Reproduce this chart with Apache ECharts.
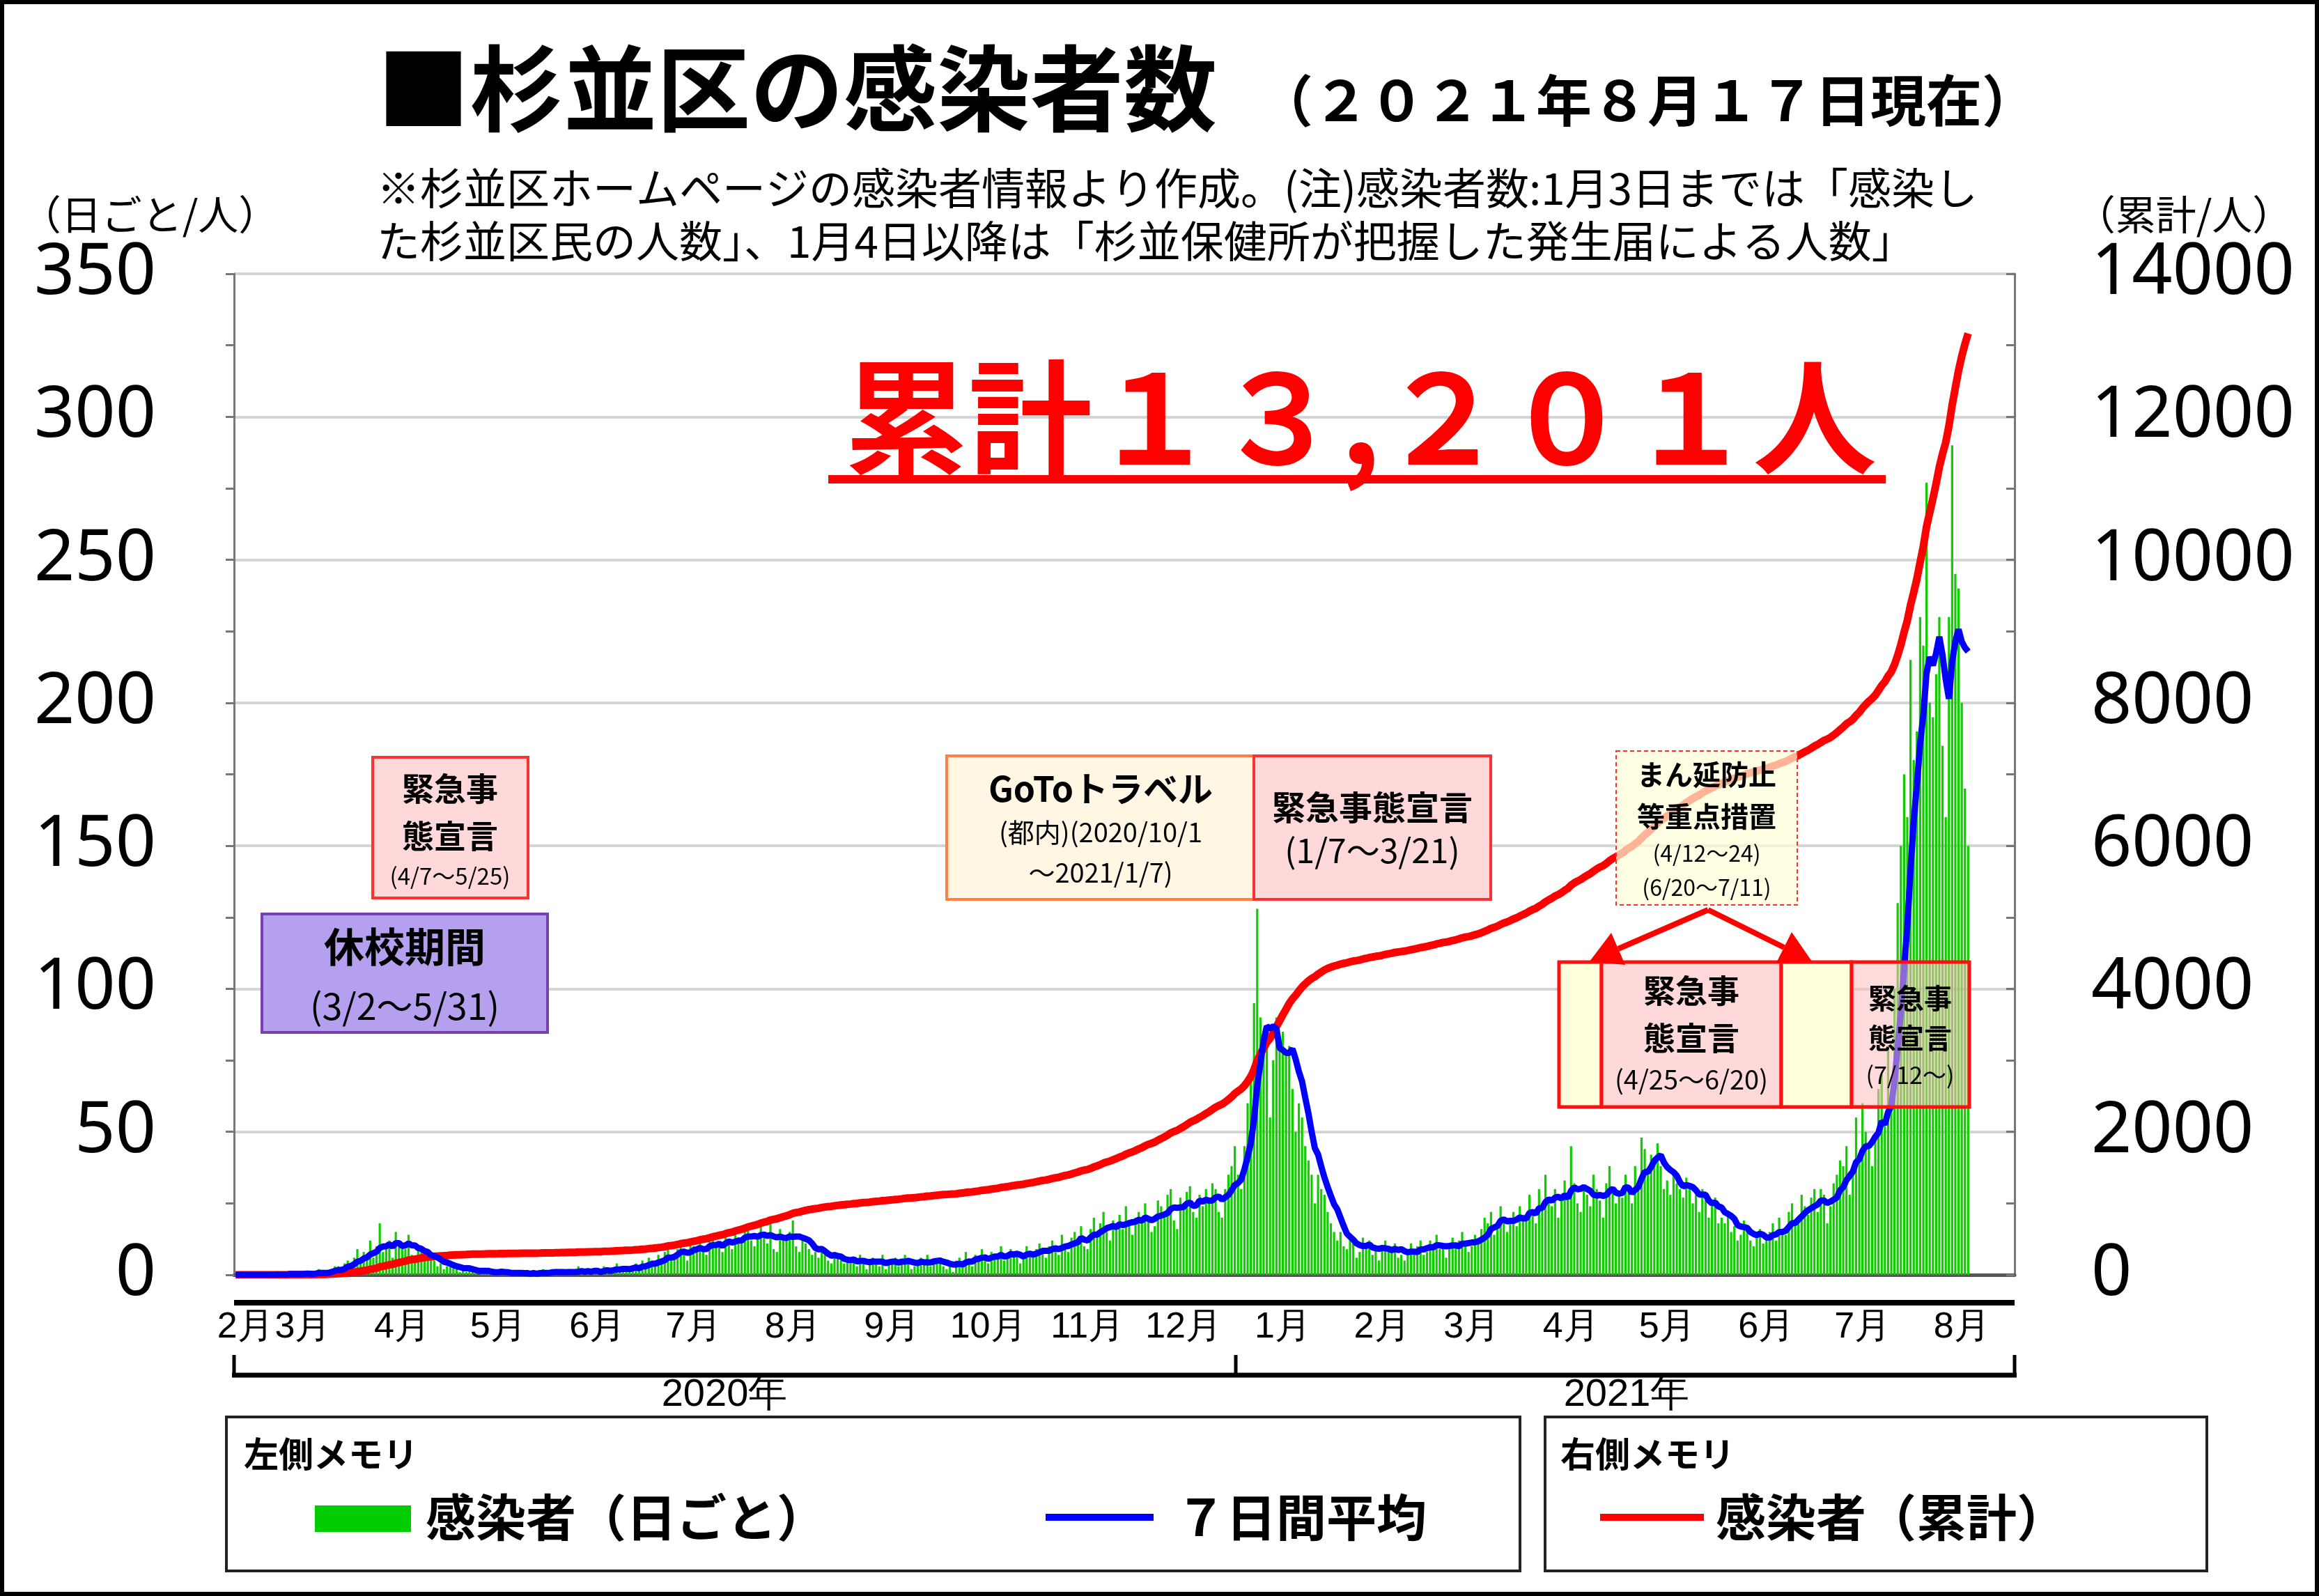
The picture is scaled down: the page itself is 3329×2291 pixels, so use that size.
<!DOCTYPE html>
<html>
<head>
<meta charset="utf-8">
<script src="https://cdn.jsdelivr.net/npm/echarts@6/dist/echarts.min.js"></script>
<style>
  html, body { margin: 0; padding: 0; background: #fff; }
  #chart { width: 3329px; height: 2291px; }
</style>
</head>
<body>
<div id="chart"></div>
<script>
// ── 日ごとの感染者数───────────────────────
const feb2020 = [0,0,0,0,0,0,0]; // 2/23〜2/29
const mar2020 = [0,0,0,0,0,0,1,0,0,0,1,0,0,1,0,1,0,0,1,2,1,0,1,2,3,3,2,4,5,3,6];
const apr2020 = [9,5,8,7,12,6,10,18,8,9,12,6,15,10,11,9,14,7,6,9,8,5,7,6,5,3,4,2,3,4];
const may2020 = [3,2,1,2,1,3,2,1,0,1,2,1,1,0,1,2,0,1,0,1,0,1,1,0,0,1,0,1,2,1,0];
const jun2020 = [1,2,0,1,1,2,0,1,3,1,0,2,1,2,1,0,3,2,1,2,4,1,2,3,1,3,4,2,5,3];
const jul2020 = [6,4,3,7,5,8,10,5,6,9,12,7,5,11,10,8,13,9,7,12,14,10,11,8,15,12,9,16,13,11,15];
const aug2020 = [18,12,10,14,17,13,11,20,9,8,16,14,12,15,19,10,8,13,11,9,7,8,6,10,7,5,4,8,6,5,4];
const sep2020 = [5,4,6,3,7,5,2,4,6,5,3,7,2,4,5,6,3,5,7,4,2,3,5,6,4,7,3,5,4,6];
const oct2020 = [3,2,4,1,5,6,4,8,5,3,7,6,9,5,4,8,6,7,10,5,6,9,7,8,4,6,10,8,7,9,11];
const nov2020 = [8,6,10,12,9,7,14,11,8,13,15,12,17,10,9,16,20,14,18,22,15,12,19,17,21,16,24,18,14,20];
const dec2020 = [22,18,25,20,15,17,26,24,21,28,30,19,16,27,25,29,31,22,20,28,24,30,26,32,30,22,20,30,35,38,45];
const jan2021 = [35,30,45,60,70,95,128,90,85,80,55,75,90,80,85,78,80,65,50,60,55,45,40,35,25,35,30,28,22,18,15];
const feb2021 = [12,15,10,9,14,11,6,8,13,10,12,7,9,5,10,12,9,8,11,6,7,5,9,11,8,10,12,7];
const mar2021 = [8,12,10,14,9,11,6,9,13,10,12,15,11,8,10,14,12,16,20,18,22,14,18,24,20,15,19,22,17,24,21];
const apr2021 = [20,28,22,18,30,25,35,27,24,30,20,26,33,28,45,32,25,22,30,28,24,35,30,26,20,32,38,30,25,28];
const may2021 = [27,35,30,25,38,32,48,44,35,42,40,46,38,30,33,28,36,32,30,27,34,31,25,28,22,30,26,20,24,27,18];
const jun2021 = [20,18,22,15,17,12,14,19,16,12,10,14,16,11,13,15,18,12,20,16,14,22,25,18,20,28,24,21,27,30];
const jul2021 = [22,30,28,18,24,32,35,40,38,45,28,35,55,42,60,50,45,38,48,65,70,52,80,60,100,130,150,175,160,215,180];
const aug2021 = [190,230,220,277,200,195,210,230,185,160,230,290,245,240,200,170,150]; // 〜8/17

const daily = [].concat(feb2020, mar2020, apr2020, may2020, jun2020, jul2020, aug2020,
  sep2020, oct2020, nov2020, dec2020, jan2021, feb2021, mar2021, apr2021, may2021,
  jun2021, jul2021, aug2021);

// ── 軸の目盛 ─────────────────────────────
const axisStart = new Date(2020, 1, 23);
const axisEnd = new Date(2021, 8, 1); // 9/1 の手前まで
const leftTicks = { min: 0, max: 350, interval: 50 };
const rightTicks = { min: 0, max: 14000, interval: 2000 };
const yearLabels = ["2020年", "2021年"];

const dates = [];
for (let d = new Date(axisStart); d < axisEnd; d.setDate(d.getDate() + 1)) dates.push(new Date(d));
const cats = dates.map(d => `${d.getFullYear()}/${d.getMonth() + 1}/${d.getDate()}`);

// 7日間平均・累計
const avg7 = daily.map((_, i) => {
  const s = daily.slice(Math.max(0, i - 6), i + 1);
  return +(s.reduce((a, b) => a + b, 0) / s.length).toFixed(1);
});
let run = 0;
const cumul = daily.map(v => (run += v));

const JP = '"Noto Sans CJK JP"';
const NARROW = '"Liberation Sans Narrow", "Liberation Sans", sans-serif';

function txt(x, y, text, size, opt = {}) {
  return {
    type: "text", z: 110,
    style: {
      x, y, text,
      fill: opt.fill || "#000",
      font: `${opt.weight || "bold"} ${size}px ${opt.family || JP}`,
      textAlign: opt.align || "center", align: opt.align || "center",
      textVerticalAlign: "middle", verticalAlign: "middle",
    },
  };
}
function box(x1, y1, x2, y2, fill, stroke, lw, dash, z) {
  return {
    type: "rect", z: z || 100,
    shape: { x: x1, y: y1, width: x2 - x1, height: y2 - y1 },
    style: { fill, stroke, lineWidth: lw, lineDash: dash || null },
  };
}
function seg(x1, y1, x2, y2, color, w) {
  return { type: "line", z: 105, shape: { x1, y1, x2, y2 }, style: { stroke: color, lineWidth: w } };
}
function tri(points, color) {
  return { type: "polygon", z: 106, shape: { points }, style: { fill: color } };
}

const graphics = [
  // 外枠
  box(3, 3, 3326, 2288, "none", "#000", 6, null, 1),
  // タイトル
  txt(541, 127, "■杉並区の感染者数", 134, { align: "left" }),
  txt(2925, 144, "（２０２１年８月１７日現在）", 80, { align: "right" }),
  txt(541, 270, "※杉並区ホームページの感染者情報より作成。(注)感染者数:1月3日までは「感染し", 62, { align: "left", weight: "normal" }),
  txt(541, 346, "た杉並区民の人数」、1月4日以降は「杉並保健所が把握した発生届による人数」", 62, { align: "left", weight: "normal" }),
  txt(215, 308, "（日ごと/人）", 58, { weight: "normal" }),
  txt(3135, 308, "（累計/人）", 58, { weight: "normal" }),
  // 累計
  txt(1953, 599, "累計１３,２０１人", 178, { fill: "#ff0000" }),
  seg(1189, 688, 2707, 688, "#ff0000", 12),

  // 緊急事態宣言 (4/7～5/25)
  box(535, 1087, 758, 1289, "#ffd9d9", "#ff3030", 4),
  txt(646, 1132, "緊急事", 46), txt(646, 1200, "態宣言", 46),
  txt(646, 1257, "(4/7～5/25)", 33, { weight: "normal" }),
  // 休校期間
  box(376, 1312, 786, 1482, "#b4a0ee", "#7a40b0", 4),
  txt(581, 1359, "休校期間", 58), txt(581, 1444, "(3/2～5/31)", 52, { weight: "normal" }),
  // GoTo
  box(1359, 1085, 1800, 1291, "#fff6e4", "#ff8040", 4),
  txt(1580, 1132, "GoToトラベル", 50),
  txt(1580, 1195, "(都内)(2020/10/1", 38, { weight: "normal" }),
  txt(1580, 1253, "～2021/1/7)", 38, { weight: "normal" }),
  // 緊急事態宣言 (1/7～3/21)
  box(1800, 1085, 2140, 1291, "#ffd9d9", "#ff3030", 4),
  txt(1970, 1159, "緊急事態宣言", 48), txt(1970, 1221, "(1/7～3/21)", 48, { weight: "normal" }),
  // まん延防止
  box(2320, 1078, 2580, 1299, "rgba(255,255,215,0.7)", "#ff3030", 2, [6, 4]),
  txt(2450, 1112, "まん延防止", 40), txt(2450, 1172, "等重点措置", 40),
  txt(2450, 1225, "(4/12～24)", 32, { weight: "normal" }),
  txt(2450, 1274, "(6/20～7/11)", 32, { weight: "normal" }),
  // 矢印
  seg(2452, 1306, 2323, 1362, "#ff0000", 8),
  tri([[2282, 1380], [2333, 1385], [2313, 1339]], "#ff0000"),
  seg(2452, 1306, 2561, 1360, "#ff0000", 8),
  tri([[2601, 1380], [2550, 1382], [2572, 1338]], "#ff0000"),
  // 下段の帯
  box(2238, 1381, 2299, 1589, "#ffffdc", "#ff1010", 5),
  box(2299, 1381, 2557, 1589, "#ffd9d9", "#ff1010", 5),
  box(2557, 1381, 2658, 1589, "#ffffdc", "#ff1010", 5),
  box(2658, 1381, 2827, 1589, "rgba(255,190,190,0.55)", "#ff1010", 5),
  txt(2428, 1422, "緊急事", 46), txt(2428, 1490, "態宣言", 46),
  txt(2428, 1550, "(4/25～6/20)", 38, { weight: "normal" }),
  txt(2742, 1433, "緊急事", 40), txt(2742, 1490, "態宣言", 40),
  txt(2742, 1543, "(7/12～)", 34, { weight: "normal" }),

  // 年の括弧
  seg(336, 1870, 2892, 1870, "#000", 8),
  seg(336, 1945, 336, 1976, "#000", 5),
  seg(1774, 1945, 1774, 1976, "#000", 5),
  seg(2892, 1945, 2892, 1976, "#000", 5),
  seg(333, 1974, 2895, 1974, "#000", 7),
  txt(1040, 2003, yearLabels[0], 56, { weight: "normal", family: NARROW }),
  txt(2335, 2003, yearLabels[1], 56, { weight: "normal", family: NARROW }),

  // 凡例
  box(325, 2034, 2182, 2255, "#fff", "#222", 4),
  box(2218, 2034, 3168, 2255, "#fff", "#222", 4),
  txt(350, 2087, "左側メモリ", 50, { align: "left" }),
  { type: "rect", z: 105, shape: { x: 452, y: 2161, width: 138, height: 38 }, style: { fill: "#00cc00" } },
  txt(611, 2178, "感染者（日ごと）", 72, { align: "left" }),
  seg(1501, 2178, 1656, 2178, "#0000ff", 10),
  txt(1688, 2178, "７日間平均", 72, { align: "left" }),
  txt(2240, 2087, "右側メモリ", 50, { align: "left" }),
  seg(2297, 2178, 2446, 2178, "#ff0000", 10),
  txt(2463, 2178, "感染者（累計）", 72, { align: "left" }),
];

const chart = echarts.init(document.getElementById("chart"));
chart.setOption({
  animation: false,
  backgroundColor: "#fff",
  grid: { left: 336, right: 437, top: 393, bottom: 461 },
  xAxis: [
    {
      type: "category", data: cats, position: "bottom",
      axisLine: { lineStyle: { color: "#555", width: 5 } },
      axisTick: { interval: 6, length: 10, lineStyle: { color: "#555", width: 2 } },
      axisLabel: { show: false },
    },
    {
      type: "category", data: cats, position: "bottom",
      axisLine: { show: false },
      axisTick: {
        interval: i => dates[i].getDate() === 1 || i === 0,
        length: 38, lineStyle: { color: "#000", width: 5 },
      },
      axisLabel: {
        interval: i => dates[i].getDate() === 15 || i === 3,
        formatter: v => `${+v.split("/")[1]}月`,
        margin: 50, fontSize: 52, color: "#000", fontFamily: NARROW,
      },
    },
  ],
  yAxis: [
    {
      type: "value", ...leftTicks,
      axisLine: { show: true, lineStyle: { color: "#777", width: 3 } },
      axisTick: { show: true, length: 12, lineStyle: { color: "#777", width: 3 } },
      minorTick: { show: true, splitNumber: 2, length: 12, lineStyle: { color: "#777", width: 3 } },
      axisLabel: { fontSize: 102, color: "#000", margin: 112, fontFamily: '"Noto Sans"' },
      splitLine: { lineStyle: { color: "#d4d4d4", width: 4 } },
    },
    {
      type: "value", ...rightTicks,
      axisLine: { show: true, lineStyle: { color: "#777", width: 3 } },
      axisTick: { show: true, inside: true, length: 12, lineStyle: { color: "#777", width: 3 } },
      minorTick: { show: true, splitNumber: 2, length: 12, lineStyle: { color: "#777", width: 3 } },
      axisLabel: { fontSize: 102, color: "#000", margin: 110, fontFamily: '"Noto Sans"', formatter: v => String(v) },
      splitLine: { show: false },
    },
  ],
  series: [
    {
      name: "感染者（日ごと）", type: "bar", data: daily, yAxisIndex: 0,
      barCategoryGap: "30%", itemStyle: { color: "#11cc00" }, z: 2,
    },
    {
      name: "感染者（累計）", type: "line", data: cumul, yAxisIndex: 1,
      symbol: "none", lineStyle: { color: "#ff0000", width: 11 }, z: 3,
    },
    {
      name: "7日間平均", type: "line", data: avg7, yAxisIndex: 0,
      symbol: "none", lineStyle: { color: "#0000ff", width: 9 }, z: 4,
    },
  ],
  graphic: graphics,
});
</script>
</body>
</html>
